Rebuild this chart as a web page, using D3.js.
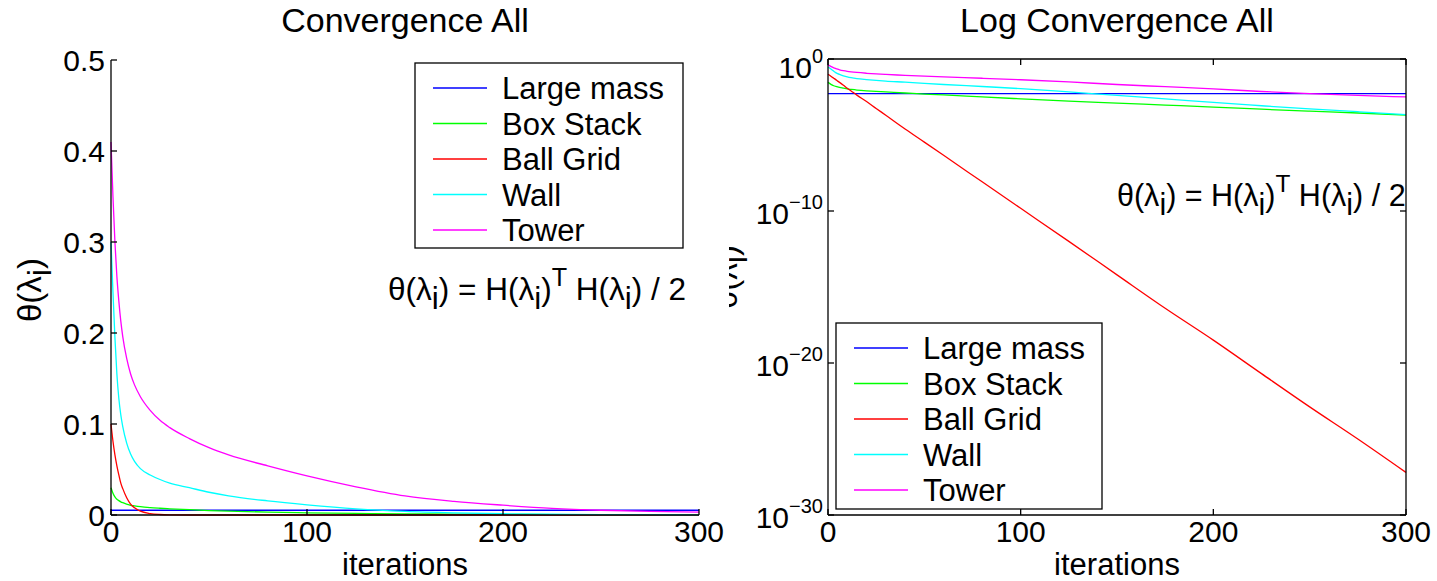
<!DOCTYPE html>
<html>
<head>
<meta charset="utf-8">
<script src="https://cdn.jsdelivr.net/npm/d3@7"></script>
<style>
  body { margin: 0; background: #fff; }
  svg { display: block; font-family: "Liberation Sans", Arial, sans-serif; }
</style>
</head>
<body>
<div id="chart"></div>
<script>
const iterations = [0, 1, 2, 3, 4, 5, 6, 8, 10, 12, 15, 20, 25, 30, 40, 50, 60, 80, 100, 125, 150, 175, 200, 225, 250, 275, 300];
const largeMass = [0.0052, 0.0052, 0.0052, 0.0052, 0.0052, 0.0052, 0.0052, 0.0052, 0.0052, 0.0052, 0.0052, 0.0052, 0.0052, 0.0052,
  0.0052, 0.0052, 0.0052, 0.0052, 0.0052, 0.0052, 0.0052, 0.0052, 0.0052, 0.0052, 0.0052, 0.0052, 0.0052];
const boxStack = [0.030, 0.024, 0.020, 0.0174, 0.0158, 0.0145, 0.0135, 0.012, 0.0107, 0.010, 0.0091, 0.0081, 0.0074, 0.0068,
  0.0058, 0.0049, 0.0043, 0.0032, 0.0024, 0.0017, 0.00126, 0.00093, 0.00069, 0.0005, 0.00037, 0.00028, 0.0002];
const ballGrid = [1.0e-1, 8.1e-2, 6.6e-2, 5.4e-2, 4.4e-2, 3.5e-2, 2.9e-2, 1.9e-2, 1.2e-2, 7.9e-3, 4.2e-3, 1.6e-3, 5.6e-4, 2.0e-4,
  2.5e-5, 3.4e-6, 4.6e-7, 8.3e-9, 1.5e-10, 1.0e-12, 6.3e-15, 4.0e-17, 3.2e-19, 2.0e-21, 1.3e-23, 1.0e-25, 6.3e-28];
const wall = [0.30, 0.245, 0.195, 0.155, 0.128, 0.110, 0.097, 0.079, 0.067, 0.059, 0.051, 0.044, 0.039, 0.035,
  0.030, 0.025, 0.021, 0.0155, 0.0112, 0.0068, 0.0040, 0.0024, 0.00138, 0.00084, 0.00052, 0.00034, 0.00022];
const tower = [0.41, 0.35, 0.30, 0.262, 0.235, 0.213, 0.196, 0.172, 0.155, 0.143, 0.130, 0.115, 0.104, 0.096,
  0.084, 0.074, 0.066, 0.054, 0.043, 0.031, 0.021, 0.015, 0.0108, 0.0073, 0.0052, 0.0040, 0.0032];

const seriesNames = ["Large mass", "Box Stack", "Ball Grid", "Wall", "Tower"];
const seriesColors = ["#0000ff", "#00ff00", "#ff0000", "#00ffff", "#ff00ff"];
const seriesValues = [largeMass, boxStack, ballGrid, wall, tower];

const xTicks = [0, 100, 200, 300];
const linTicks = [0, 0.1, 0.2, 0.3, 0.4, 0.5];
const logTicks = [1e0, 1e-10, 1e-20, 1e-30];
const logTickExp = ["0", "\u221210", "\u221220", "\u221230"];

const series = seriesNames.map((name, k) => ({
  name: name,
  color: seriesColors[k],
  points: iterations.map((it, j) => ({ it: it, v: seriesValues[k][j] }))
}));

const W = 1437, H = 581;
const FS = 30;   // tick labels
const LFS = 31;  // legend, labels
const svg = d3.select("#chart").append("svg").attr("width", W).attr("height", H);

// formula text with sub/superscripts
const formula = [
  { t: "\u03b8(\u03bb" }, { t: "i", sub: true }, { t: ") = H(\u03bb" }, { t: "i", sub: true }, { t: ")" },
  { t: "T", sup: true }, { t: " H(\u03bb" }, { t: "i", sub: true }, { t: ") / 2" }
];
const yLabel = [{ t: "\u03b8(\u03bb" }, { t: "i", sub: true }, { t: ")" }];

function richText(g, parts, x, y, size) {
  const txt = g.append("text").attr("x", x).attr("y", y).attr("font-size", size).attr("fill", "#000");
  let shift = 0;
  parts.forEach(p => {
    const target = p.sub ? size * 0.3 : p.sup ? -size * 0.45 : 0;
    txt.append("tspan")
      .attr("dy", target - shift)
      .attr("font-size", p.sup ? size * 0.8 : size)
      .text(p.t);
    shift = target;
  });
  return txt;
}

function drawPanel(opt) {
  const g = svg.append("g");
  const x = d3.scaleLinear().domain([0, 300]).range([opt.x0, opt.x1]);
  const y = opt.log
    ? d3.scaleLog().domain([1e-30, 1]).range([opt.y1, opt.y0])
    : d3.scaleLinear().domain([0, 0.5]).range([opt.y1, opt.y0]);

  // data lines
  const line = d3.line().x(d => x(d.it)).y(d => y(d.v)).curve(d3.curveMonotoneX);
  g.selectAll("path.series")
    .data(series)
    .join("path")
    .attr("class", "series")
    .attr("d", d => line(d.points))
    .attr("fill", "none")
    .attr("stroke", d => d.color)
    .attr("stroke-width", 1.3);

  // axes frame
  const frame = g.append("g").attr("stroke", "#000").attr("stroke-width", 1.3).attr("fill", "none");
  frame.append("line").attr("x1", opt.x0).attr("x2", opt.x0).attr("y1", opt.y0).attr("y2", opt.y1);
  frame.append("line").attr("x1", opt.x0).attr("x2", opt.x1).attr("y1", opt.y1).attr("y2", opt.y1);
  if (opt.box) {
    frame.append("line").attr("x1", opt.x0).attr("x2", opt.x1).attr("y1", opt.y0).attr("y2", opt.y0);
    frame.append("line").attr("x1", opt.x1).attr("x2", opt.x1).attr("y1", opt.y0).attr("y2", opt.y1);
  }
  const tk = 6;
  xTicks.forEach(t => {
    frame.append("line").attr("x1", x(t)).attr("x2", x(t)).attr("y1", opt.y1).attr("y2", opt.y1 - tk);
    if (opt.box) frame.append("line").attr("x1", x(t)).attr("x2", x(t)).attr("y1", opt.y0).attr("y2", opt.y0 + tk);
  });
  const yt = opt.log ? logTicks : linTicks;
  yt.forEach(t => {
    frame.append("line").attr("x1", opt.x0).attr("x2", opt.x0 + tk).attr("y1", y(t)).attr("y2", y(t));
    if (opt.box) frame.append("line").attr("x1", opt.x1).attr("x2", opt.x1 - tk).attr("y1", y(t)).attr("y2", y(t));
  });

  // tick labels
  g.selectAll("text.xt").data(xTicks).join("text").attr("class", "xt")
    .attr("x", d => x(d)).attr("y", opt.y1 + 27)
    .attr("text-anchor", "middle").attr("font-size", FS).text(d => d);
  if (opt.log) {
    logTicks.forEach((t, i) => {
      const tx = g.append("text").attr("x", opt.x0 - 5).attr("y", y(t) + (i === 0 ? 19 : 13))
        .attr("text-anchor", "end").attr("font-size", FS);
      tx.append("tspan").text("10");
      tx.append("tspan").attr("dy", -15).attr("font-size", 20).text(logTickExp[i]);
    });
  } else {
    g.selectAll("text.yt").data(linTicks).join("text").attr("class", "yt")
      .attr("x", opt.x0 - 6).attr("y", d => y(d) + 11)
      .attr("text-anchor", "end").attr("font-size", FS).text(d => d3.format("")(d));
  }

  // title and x label
  g.append("text").attr("x", (opt.x0 + opt.x1) / 2).attr("y", 32)
    .attr("text-anchor", "middle").attr("font-size", 34).text(opt.title);
  g.append("text").attr("x", (opt.x0 + opt.x1) / 2).attr("y", 575)
    .attr("text-anchor", "middle").attr("font-size", LFS).text("iterations");

  // y label
  const yl = g.append("g");
  if (opt.clip) {
    svg.append("clipPath").attr("id", opt.clip).append("rect")
      .attr("x", 729).attr("y", 0).attr("width", 30).attr("height", H);
    yl.attr("clip-path", `url(#${opt.clip})`);
  }
  richText(yl.append("g").attr("transform", `translate(${opt.ylx},${opt.yly}) rotate(-90)`),
    yLabel, 0, 0, 33).attr("text-anchor", "middle");

  // formula annotation
  richText(g, formula, opt.fx, opt.fy, opt.ffs);

  // legend
  const L = opt.legend;
  g.append("rect").attr("x", L.x).attr("y", L.y).attr("width", L.w).attr("height", L.h)
    .attr("fill", "#fff").attr("stroke", "#000").attr("stroke-width", 1.3);
  const rows = g.selectAll("g.leg").data(series).join("g").attr("class", "leg")
    .attr("transform", (d, i) => `translate(${L.x},${L.y + 25 + i * 35.5})`);
  rows.append("line").attr("x1", 18).attr("x2", 72).attr("y1", 0).attr("y2", 0)
    .attr("stroke", d => d.color).attr("stroke-width", 1.3);
  rows.append("text").attr("x", 87).attr("y", 11).attr("font-size", LFS).text(d => d.name);
}

drawPanel({
  x0: 111, x1: 699, y0: 60, y1: 515, log: false, box: false,
  title: "Convergence All",
  ylx: 41, yly: 290,
  fx: 388, fy: 300, ffs: 31.5,
  legend: { x: 415, y: 63, w: 268, h: 185 }
});
drawPanel({
  x0: 828, x1: 1406, y0: 59, y1: 515, log: true, box: true,
  title: "Log Convergence All",
  ylx: 737, yly: 277, clip: "ylclip",
  fx: 1117, fy: 206, ffs: 30.5,
  legend: { x: 836, y: 323, w: 266, h: 186 }
});
</script>
</body>
</html>
